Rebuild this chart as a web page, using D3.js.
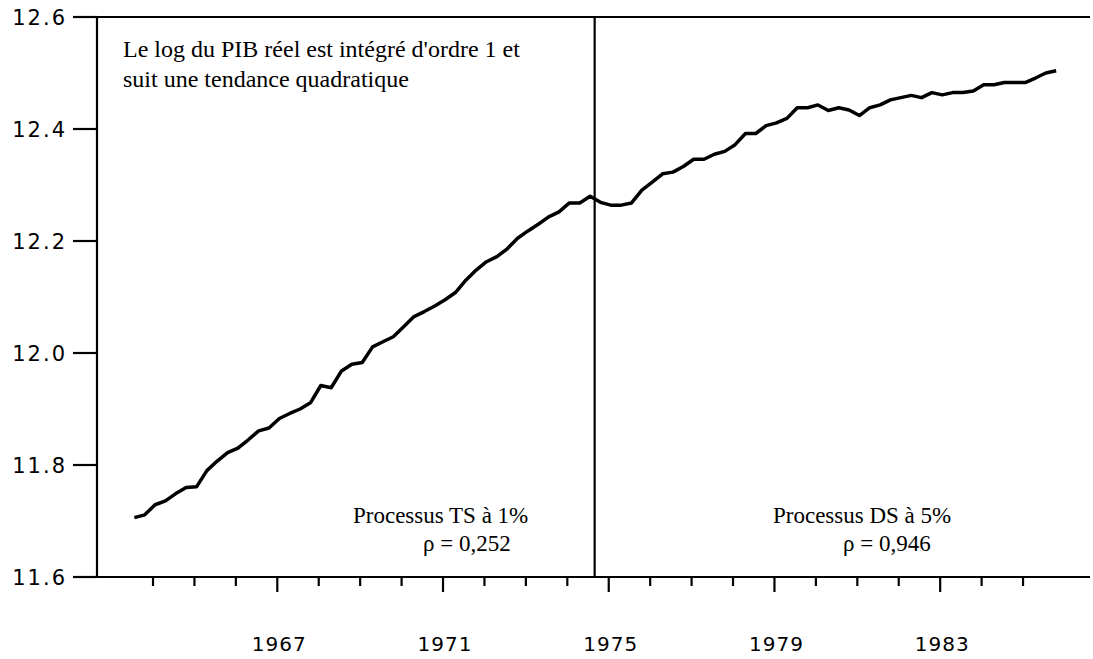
<!DOCTYPE html>
<html>
<head>
<meta charset="utf-8">
<script src="https://cdn.jsdelivr.net/npm/d3@7"></script>
<style>
  html, body { margin: 0; padding: 0; background: #fff; }
  svg { display: block; }
</style>
</head>
<body>
<svg id="chart" width="1093" height="659"></svg>
<script>
// ---- data ----
const startTime = 1963.55;     // first quarterly observation (decimal year)
const step = 0.25;             // quarterly data
const logPIB = [
  11.706, 11.711, 11.729, 11.736, 11.749, 11.760, 11.761, 11.790, 11.807, 11.822,
  11.830, 11.845, 11.861, 11.866, 11.883, 11.892, 11.900, 11.911, 11.942, 11.938,
  11.968, 11.980, 11.983, 12.011, 12.020, 12.029, 12.047, 12.065, 12.074, 12.084,
  12.095, 12.108, 12.130, 12.148, 12.163, 12.172, 12.186, 12.205, 12.218, 12.230,
  12.243, 12.252, 12.268, 12.268, 12.280,
  12.269, 12.264, 12.264, 12.268, 12.291, 12.305, 12.320, 12.323, 12.333, 12.346,
  12.346, 12.355, 12.360, 12.372, 12.392, 12.392, 12.406, 12.411, 12.419, 12.438,
  12.438, 12.443, 12.433, 12.438, 12.434, 12.424, 12.438, 12.443, 12.452, 12.456,
  12.460, 12.456, 12.465, 12.461, 12.465, 12.465, 12.468, 12.479, 12.479, 12.483,
  12.483, 12.483, 12.491, 12.500, 12.504
];
const breakTime = 1974.66;
const yTicks = [11.6, 11.8, 12.0, 12.2, 12.4, 12.6];
const xMinorTicks = d3.range(1964, 1986);
const xMajorTicks = [1967, 1971, 1975, 1979, 1983];
const titleLines = ["Le log du PIB réel est intégré d'ordre 1 et", "suit une tendance quadratique"];
const leftLabel = ["Processus TS à 1%", "ρ = 0,252"];
const rightLabel = ["Processus DS à 5%", "ρ = 0,946"];

// ---- layout ----
const svg = d3.select("#chart");
const mLeft = 97, mRight = 1090, mTop = 17, mBottom = 577;
const pxPerYear = 41.43;
const x = d3.scaleLinear()
  .domain([1967 - (277.3 - mLeft) / pxPerYear, 1967 + (mRight - 277.3) / pxPerYear])
  .range([mLeft, mRight]);
const y = d3.scaleLinear().domain([11.6, 12.6]).range([mBottom, mTop]);

const tickFont = "'DejaVu Sans', sans-serif";
const serif = "'Liberation Serif', 'Times New Roman', serif";

// frame: left axis, top line, bottom axis
svg.append("line").attr("x1", mLeft).attr("x2", mLeft).attr("y1", mTop).attr("y2", mBottom)
  .attr("stroke", "#000").attr("stroke-width", 2.2);
svg.append("line").attr("x1", mLeft - 24).attr("x2", mRight).attr("y1", mTop).attr("y2", mTop)
  .attr("stroke", "#000").attr("stroke-width", 2.2);
svg.append("line").attr("x1", mLeft - 24).attr("x2", mRight).attr("y1", mBottom).attr("y2", mBottom)
  .attr("stroke", "#000").attr("stroke-width", 2.2);

// y ticks
const yg = svg.append("g");
yg.selectAll("line").data(yTicks).join("line")
  .attr("x1", mLeft - 24).attr("x2", mLeft)
  .attr("y1", d => y(d)).attr("y2", d => y(d))
  .attr("stroke", "#000").attr("stroke-width", 2.2);
yg.selectAll("text").data(yTicks).join("text")
  .attr("x", 67).attr("y", d => y(d))
  .attr("dy", "0.36em")
  .attr("text-anchor", "end")
  .attr("font-family", tickFont).attr("font-size", 21)
  .attr("letter-spacing", 2)
  .text(d => d3.format(".1f")(d));

// x ticks
const xg = svg.append("g");
xg.selectAll("line.minor").data(xMinorTicks.filter(d => !xMajorTicks.includes(d))).join("line")
  .attr("class", "minor")
  .attr("x1", d => x(d)).attr("x2", d => x(d))
  .attr("y1", mBottom).attr("y2", mBottom + 9)
  .attr("stroke", "#000").attr("stroke-width", 2.2);
xg.selectAll("line.major").data(xMajorTicks).join("line")
  .attr("class", "major")
  .attr("x1", d => x(d)).attr("x2", d => x(d))
  .attr("y1", mBottom).attr("y2", mBottom + 15)
  .attr("stroke", "#000").attr("stroke-width", 2.2);
xg.selectAll("text").data(xMajorTicks).join("text")
  .attr("x", d => x(d) + 2).attr("y", 651)
  .attr("text-anchor", "middle")
  .attr("font-family", tickFont).attr("font-size", 20)
  .attr("letter-spacing", 1)
  .text(d => d);

// break line
svg.append("line").attr("x1", x(breakTime)).attr("x2", x(breakTime))
  .attr("y1", mTop).attr("y2", mBottom)
  .attr("stroke", "#000").attr("stroke-width", 2.2);

// series
const line = d3.line()
  .x((d, i) => x(startTime + i * step))
  .y(d => y(d));
svg.append("path").datum(logPIB)
  .attr("d", line)
  .attr("fill", "none").attr("stroke", "#000")
  .attr("stroke-width", 3.5).attr("stroke-linejoin", "round");

// annotations
const t = svg.append("text").attr("font-family", serif).attr("font-size", 24);
titleLines.forEach((s, i) => t.append("tspan").attr("x", 123).attr("y", 57 + i * 30).text(s));

svg.append("text").attr("font-family", serif).attr("font-size", 23)
  .attr("x", 353).attr("y", 523).text(leftLabel[0]);
svg.append("text").attr("font-family", serif).attr("font-size", 23)
  .attr("x", 423).attr("y", 551).text(leftLabel[1]);
svg.append("text").attr("font-family", serif).attr("font-size", 23)
  .attr("x", 773).attr("y", 523).text(rightLabel[0]);
svg.append("text").attr("font-family", serif).attr("font-size", 23)
  .attr("x", 843).attr("y", 551).text(rightLabel[1]);
</script>
</body>
</html>
